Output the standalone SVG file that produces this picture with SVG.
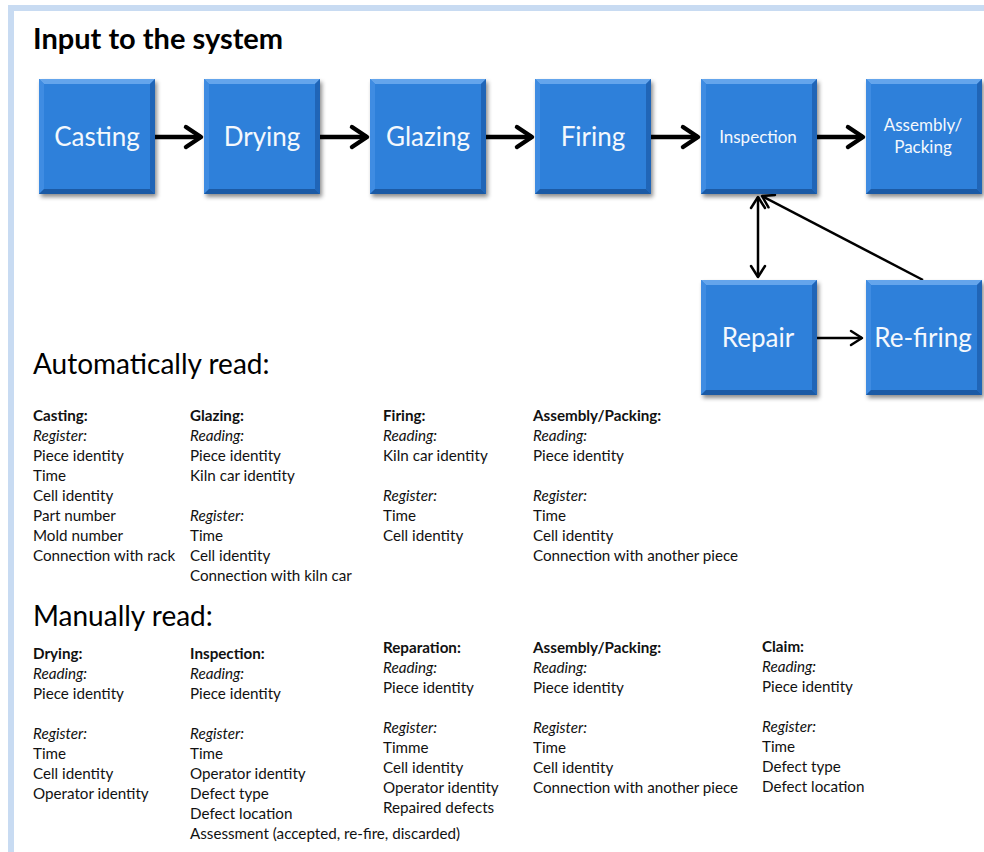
<svg xmlns="http://www.w3.org/2000/svg" xmlns:xlink="http://www.w3.org/1999/xlink" width="984" height="852" viewBox="0 0 984 852">
  <style>
    .title { font-family: Lato, "Open Sans", sans-serif; font-weight: bold; font-size: 29px; fill: #000; }
    .section { font-family: Lato, "Open Sans", sans-serif; font-size: 28px; fill: #000; }
    .lbl { font-family: Lato, "Open Sans", sans-serif; fill: #f4f8fd; text-anchor: middle; }
    .big { font-size: 26px; }
    .small { font-size: 17px; }
    .list { font-family: Lato, "Open Sans", sans-serif; font-size: 15.2px; fill: #111; }
    .list .h { font-weight: bold; }
    .list .i { font-style: italic; }
    .thick { stroke: #000; stroke-width: 4.5; fill: none; }
    .thin { stroke: #000; stroke-width: 2.5; fill: none; }
  </style>
  <defs>
    <filter id="shadow" x="-10%" y="-10%" width="130%" height="130%">
      <feDropShadow dx="2" dy="3" stdDeviation="2" flood-color="#000" flood-opacity="0.45"/>
    </filter>
    <!-- bevelled blue process block, 116 x 115 -->
    <g id="block">
      <rect x="0" y="0" width="116" height="115" fill="#2e80da" filter="url(#shadow)"/>
      <polygon points="0,0 116,0 111,5 5,5" fill="#64a5ec"/>
      <polygon points="0,0 5,5 5,110 0,115" fill="#3f8ce2"/>
      <polygon points="116,0 116,115 111,110 111,5" fill="#2065b7"/>
      <polygon points="0,115 116,115 111,110 5,110" fill="#1b5aa5"/>
    </g>
    <marker id="headBig" markerUnits="userSpaceOnUse" markerWidth="30" markerHeight="30" viewBox="-20 -15 30 30" refX="0" refY="0" orient="auto">
      <path d="M-15,-10 L0,0 L-15,10" fill="none" stroke="#000" stroke-width="4.5" stroke-linecap="round" stroke-linejoin="round"/>
    </marker>
    <marker id="headSmall" markerUnits="userSpaceOnUse" markerWidth="24" markerHeight="24" viewBox="-16 -12 24 24" refX="0" refY="0" orient="auto-start-reverse">
      <path d="M-11,-7 L0,0 L-11,7" fill="none" stroke="#000" stroke-width="2.5" stroke-linecap="round" stroke-linejoin="round"/>
    </marker>
  </defs>

  <rect width="984" height="852" fill="#fff"/>
  <!-- outer frame, only left and top edges fall inside the canvas -->
  <rect x="11" y="8" width="1000" height="900" fill="none" stroke="#c8dbf2" stroke-width="6"/>

  <text class="title" x="33" y="49">Input to the system</text>

  <!-- connectors -->
  <g id="connectors">
    <line class="thick" x1="155" y1="137" x2="201" y2="137" marker-end="url(#headBig)"/>
    <line class="thick" x1="320" y1="137" x2="367" y2="137" marker-end="url(#headBig)"/>
    <line class="thick" x1="486" y1="137" x2="532" y2="137" marker-end="url(#headBig)"/>
    <line class="thick" x1="651" y1="137" x2="698" y2="137" marker-end="url(#headBig)"/>
    <line class="thick" x1="817" y1="137" x2="863" y2="137" marker-end="url(#headBig)"/>
    <line class="thin" x1="758" y1="197" x2="758" y2="277" marker-start="url(#headSmall)" marker-end="url(#headSmall)"/>
    <line class="thin" x1="817" y1="338" x2="862" y2="338" marker-end="url(#headSmall)"/>
    <line class="thin" x1="923" y1="280" x2="762" y2="196" marker-end="url(#headSmall)"/>
  </g>

  <!-- process blocks -->
  <g id="casting" transform="translate(39,79)">
    <use xlink:href="#block"/>
    <text class="lbl big" x="58" y="67">Casting</text>
  </g>
  <g id="drying" transform="translate(204,79)">
    <use xlink:href="#block"/>
    <text class="lbl big" x="58" y="67">Drying</text>
  </g>
  <g id="glazing" transform="translate(370,79)">
    <use xlink:href="#block"/>
    <text class="lbl big" x="58" y="67">Glazing</text>
  </g>
  <g id="firing" transform="translate(535,79)">
    <use xlink:href="#block"/>
    <text class="lbl big" x="58" y="67">Firing</text>
  </g>
  <g id="inspection" transform="translate(701,79)">
    <use xlink:href="#block"/>
    <text class="lbl small" x="57" y="64">Inspection</text>
  </g>
  <g id="assembly" transform="translate(866,79)">
    <use xlink:href="#block"/>
    <text class="lbl small" x="57" y="52">Assembly/</text>
    <text class="lbl small" x="57" y="74">Packing</text>
  </g>
  <g id="repair" transform="translate(701,280)">
    <use xlink:href="#block"/>
    <text class="lbl big" x="57" y="67">Repair</text>
  </g>
  <g id="refiring" transform="translate(866,280)">
    <use xlink:href="#block"/>
    <text class="lbl big" x="57" y="67">Re-firing</text>
  </g>

  <!-- automatically read -->
  <text class="section" x="33" y="374">Automatically read:</text>
  <g class="list">
    <text x="33" y="421"><tspan class="h">Casting:</tspan>
      <tspan class="i" x="33" dy="20">Register:</tspan>
      <tspan x="33" dy="20">Piece identity</tspan>
      <tspan x="33" dy="20">Time</tspan>
      <tspan x="33" dy="20">Cell identity</tspan>
      <tspan x="33" dy="20">Part number</tspan>
      <tspan x="33" dy="20">Mold number</tspan>
      <tspan x="33" dy="20">Connection with rack</tspan>
    </text>
    <text x="190" y="421"><tspan class="h">Glazing:</tspan>
      <tspan class="i" x="190" dy="20">Reading:</tspan>
      <tspan x="190" dy="20">Piece identity</tspan>
      <tspan x="190" dy="20">Kiln car identity</tspan>
      <tspan class="i" x="190" dy="40">Register:</tspan>
      <tspan x="190" dy="20">Time</tspan>
      <tspan x="190" dy="20">Cell identity</tspan>
      <tspan x="190" dy="20">Connection with kiln car</tspan>
    </text>
    <text x="383" y="421"><tspan class="h">Firing:</tspan>
      <tspan class="i" x="383" dy="20">Reading:</tspan>
      <tspan x="383" dy="20">Kiln car identity</tspan>
      <tspan class="i" x="383" dy="40">Register:</tspan>
      <tspan x="383" dy="20">Time</tspan>
      <tspan x="383" dy="20">Cell identity</tspan>
    </text>
    <text x="533" y="421"><tspan class="h">Assembly/Packing:</tspan>
      <tspan class="i" x="533" dy="20">Reading:</tspan>
      <tspan x="533" dy="20">Piece identity</tspan>
      <tspan class="i" x="533" dy="40">Register:</tspan>
      <tspan x="533" dy="20">Time</tspan>
      <tspan x="533" dy="20">Cell identity</tspan>
      <tspan x="533" dy="20">Connection with another piece</tspan>
    </text>
  </g>

  <!-- manually read -->
  <text class="section" x="33" y="626">Manually read:</text>
  <g class="list">
    <text x="33" y="659"><tspan class="h">Drying:</tspan>
      <tspan class="i" x="33" dy="20">Reading:</tspan>
      <tspan x="33" dy="20">Piece identity</tspan>
      <tspan class="i" x="33" dy="40">Register:</tspan>
      <tspan x="33" dy="20">Time</tspan>
      <tspan x="33" dy="20">Cell identity</tspan>
      <tspan x="33" dy="20">Operator identity</tspan>
    </text>
    <text x="190" y="659"><tspan class="h">Inspection:</tspan>
      <tspan class="i" x="190" dy="20">Reading:</tspan>
      <tspan x="190" dy="20">Piece identity</tspan>
      <tspan class="i" x="190" dy="40">Register:</tspan>
      <tspan x="190" dy="20">Time</tspan>
      <tspan x="190" dy="20">Operator identity</tspan>
      <tspan x="190" dy="20">Defect type</tspan>
      <tspan x="190" dy="20">Defect location</tspan>
      <tspan x="190" dy="20">Assessment (accepted, re-fire, discarded)</tspan>
    </text>
    <text x="383" y="653"><tspan class="h">Reparation:</tspan>
      <tspan class="i" x="383" dy="20">Reading:</tspan>
      <tspan x="383" dy="20">Piece identity</tspan>
      <tspan class="i" x="383" dy="40">Register:</tspan>
      <tspan x="383" dy="20">Timme</tspan>
      <tspan x="383" dy="20">Cell identity</tspan>
      <tspan x="383" dy="20">Operator identity</tspan>
      <tspan x="383" dy="20">Repaired defects</tspan>
    </text>
    <text x="533" y="653"><tspan class="h">Assembly/Packing:</tspan>
      <tspan class="i" x="533" dy="20">Reading:</tspan>
      <tspan x="533" dy="20">Piece identity</tspan>
      <tspan class="i" x="533" dy="40">Register:</tspan>
      <tspan x="533" dy="20">Time</tspan>
      <tspan x="533" dy="20">Cell identity</tspan>
      <tspan x="533" dy="20">Connection with another piece</tspan>
    </text>
    <text x="762" y="652"><tspan class="h">Claim:</tspan>
      <tspan class="i" x="762" dy="20">Reading:</tspan>
      <tspan x="762" dy="20">Piece identity</tspan>
      <tspan class="i" x="762" dy="40">Register:</tspan>
      <tspan x="762" dy="20">Time</tspan>
      <tspan x="762" dy="20">Defect type</tspan>
      <tspan x="762" dy="20">Defect location</tspan>
    </text>
  </g>
</svg>
